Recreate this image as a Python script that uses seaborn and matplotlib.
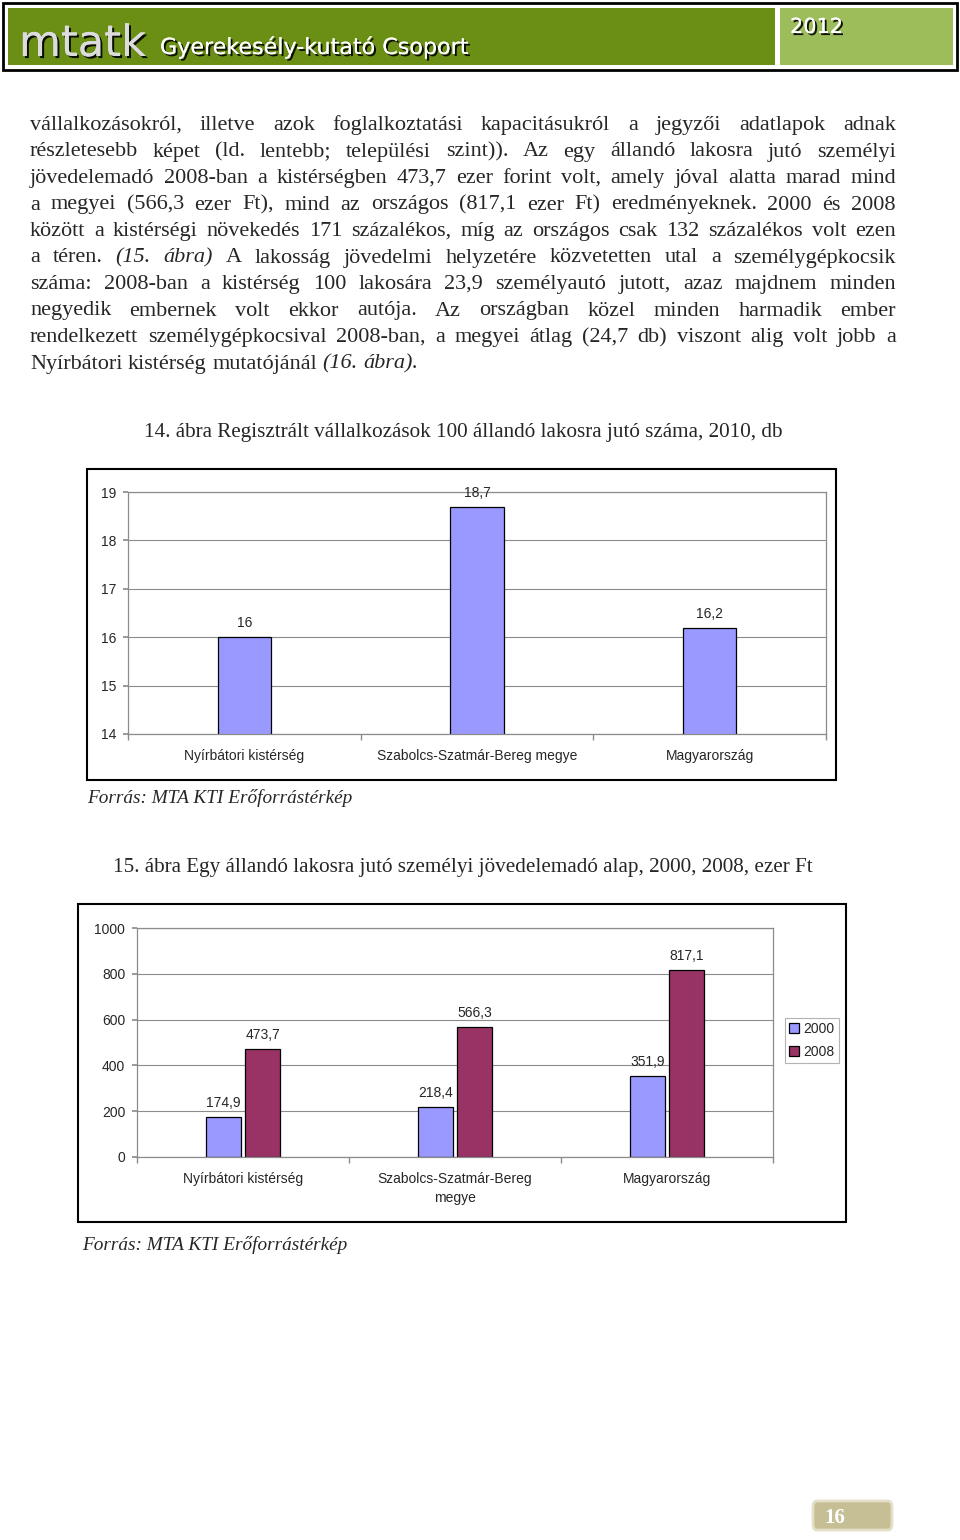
import pandas as pd
import seaborn as sns
import matplotlib.pyplot as plt
from matplotlib.patches import Rectangle, FancyBboxPatch
from matplotlib import patheffects as pe

# Data
regions = ['Nyírbátori kistérség', 'Szabolcs-Szatmár-Bereg megye', 'Magyarország']
regions2 = ['Nyírbátori kistérség', 'Szabolcs-Szatmár-Bereg\nmegye', 'Magyarország']
firms_2010 = [16.0, 18.7, 16.2]
years = ['2000', '2008']
tax_2000 = [174.9, 218.4, 351.9]
tax_2008 = [473.7, 566.3, 817.1]

paragraph = [
    "vállalkozásokról, illetve azok foglalkoztatási kapacitásukról a jegyzői adatlapok adnak",
    "részletesebb képet (ld. lentebb; települési szint)). Az egy állandó lakosra jutó személyi",
    "jövedelemadó 2008-ban a kistérségben 473,7 ezer forint volt, amely jóval alatta marad mind",
    "a megyei (566,3 ezer Ft), mind az országos (817,1 ezer Ft) eredményeknek. 2000 és 2008",
    "között a kistérségi növekedés 171 százalékos, míg az országos csak 132 százalékos volt ezen",
    "a téren. _(15. _ábra) A lakosság jövedelmi helyzetére közvetetten utal a személygépkocsik",
    "száma: 2008-ban a kistérség 100 lakosára 23,9 személyautó jutott, azaz majdnem minden",
    "negyedik embernek volt ekkor autója. Az országban közel minden harmadik ember",
    "rendelkezett személygépkocsival 2008-ban, a megyei átlag (24,7 db) viszont alig volt jobb a",
    "Nyírbátori kistérség mutatójánál _(16. _ábra).",
]

W, H = 960, 1540
SERIF = 'Liberation Serif'
SANS = 'Liberation Sans'

sns.set_theme(style='white')
plt.rcParams['font.family'] = [SANS, 'DejaVu Sans']

fig = plt.figure(figsize=(W / 100, H / 100), dpi=100)
fig.patch.set_facecolor('white')


def fx(x):
    return x / W


def fy(y):
    return 1 - y / H


def box(x0, y0, x1, y1, **kw):
    r = Rectangle((fx(x0), fy(y1)), (x1 - x0) / W, (y1 - y0) / H,
                  transform=fig.transFigure, zorder=-1, **kw)
    fig.patches.append(r)


# header banner
box(3, 3, 957, 70, facecolor='white', edgecolor='black', lw=2)
box(8, 8, 775, 65, facecolor='#6b8f14', edgecolor='none')
box(780, 8, 953, 65, facecolor='#9dbc5a', edgecolor='none')
shadow = [pe.withSimplePatchShadow(offset=(1.5, -1.5), shadow_rgbFace='black', alpha=0.9), pe.Normal()]
fig.text(fx(19), fy(56), 'mtatk', fontsize=31, color='#dcdcdc', family='DejaVu Sans',
         va='baseline', path_effects=shadow)
fig.text(fx(160), fy(54), 'Gyerekesély-kutató Csoport', fontsize=16, color='white',
         family='DejaVu Sans', va='baseline', path_effects=shadow)
fig.text(fx(790), fy(33), '2012', fontsize=15, color='white', family='DejaVu Sans',
         va='baseline', path_effects=shadow)

# justified paragraph
renderer = fig.canvas.get_renderer()
left, right = 30, 896
body_size = 16.0
cap_size = 15.2
for i, line in enumerate(paragraph):
    y = 130 + i * 26.5
    words = line.split(' ')
    items = []
    for w in words:
        italic = w.startswith('_')
        t = fig.text(0, fy(y), w.lstrip('_'), fontsize=body_size, family=SERIF,
                     style='italic' if italic else 'normal', va='baseline')
        items.append(t)
    widths = [t.get_window_extent(renderer).width for t in items]
    if i == len(paragraph) - 1:
        gap = body_size * 0.25 * 100 / 72
    else:
        gap = (right - left - sum(widths)) / (len(items) - 1)
    x = left
    for t, w in zip(items, widths):
        t.set_x(fx(x))
        x += w + gap

# chart 1
fig.text(fx(463), fy(432), '14. ábra Regisztrált vállalkozások 100 állandó lakosra jutó száma, 2010, db',
         fontsize=cap_size, family=SERIF, ha='center', va='center')
box(87, 469, 836, 780, facecolor='white', edgecolor='black', lw=1.5)

ax1 = fig.add_axes([fx(128), fy(734), fx(698), 242 / H])
df1 = pd.DataFrame({'region': regions, 'value': firms_2010})
sns.barplot(data=df1, x='region', y='value', color='#9999ff', saturation=1,
            edgecolor='black', linewidth=0.9, width=0.228, ax=ax1)
ax1.set_ylim(14, 19)
ax1.set_yticks(range(14, 20))

# chart 2
fig.text(fx(463), fy(867), '15. ábra Egy állandó lakosra jutó személyi jövedelemadó alap, 2000, 2008, ezer Ft',
         fontsize=cap_size, family=SERIF, ha='center', va='center')
box(78, 904, 846, 1222, facecolor='white', edgecolor='black', lw=1.5)

ax2 = fig.add_axes([fx(137), fy(1157), fx(636), 229 / H])
df2 = pd.DataFrame({
    'region': regions2 * 2,
    'year': [years[0]] * 3 + [years[1]] * 3,
    'value': tax_2000 + tax_2008,
})
sns.barplot(data=df2, x='region', y='value', hue='year', palette=['#9999ff', '#993366'],
            saturation=1, edgecolor='black', linewidth=0.9, width=0.37, gap=0.1, ax=ax2)
ax2.set_ylim(0, 1000)
ax2.set_yticks(range(0, 1001, 200))

handles, labels = ax2.get_legend_handles_labels()
ax2.get_legend().remove()
leg = fig.legend(handles, labels, loc='upper left', bbox_to_anchor=(fx(785), fy(1018)),
                 bbox_transform=fig.transFigure, borderaxespad=0, fontsize=10,
                 frameon=True, fancybox=False, edgecolor='#a0a0a0', handlelength=0.7,
                 handleheight=0.7, handletextpad=0.35, borderpad=0.3, labelspacing=0.65)
leg.get_frame().set_linewidth(0.8)

for ax in (ax1, ax2):
    ax.set_xlabel('')
    ax.set_ylabel('')
    ax.set_axisbelow(True)
    ax.yaxis.grid(True, color='#8c8c8c', lw=0.8)
    ax.xaxis.grid(False)
    for s in ax.spines.values():
        s.set_visible(True)
        s.set_color('#8c8c8c')
        s.set_linewidth(0.9)
    ax.set_xlim(-0.5, 2.5)
    ax.set_xticks([-0.5, 0.5, 1.5, 2.5], minor=True)
    ax.tick_params(axis='x', which='major', length=0, pad=11, labelsize=10)
    ax.tick_params(axis='x', which='minor', length=4, color='#8c8c8c', direction='out', bottom=True)
    ax.tick_params(axis='y', length=3.5, color='#8c8c8c', direction='out', left=True, pad=5,
                   labelsize=10)
    for lbl in ax.get_xticklabels():
        lbl.set_linespacing(1.45)
    for c in ax.containers:
        ax.bar_label(c, labels=[f'{v:.1f}'.replace('.', ',').replace(',0', '') for v in c.datavalues],
                     padding=5, fontsize=10)

# sources
fig.text(fx(87), fy(798), 'Forrás: MTA KTI Erőforrástérkép', fontsize=13.9, family=SERIF,
         style='italic', va='center')
fig.text(fx(82), fy(1245), 'Forrás: MTA KTI Erőforrástérkép', fontsize=13.9, family=SERIF,
         style='italic', va='center')

# page number
fig.patches.append(FancyBboxPatch((fx(813), fy(1530)), fx(79), 29 / H, transform=fig.transFigure,
                                  boxstyle='round,pad=0,rounding_size=0.004', zorder=-1,
                                  facecolor='#c6be95', edgecolor='#e3dfc8', lw=2))
fig.text(fx(835), fy(1518), '16', fontsize=15, family=SERIF, weight='bold', color='white',
         ha='center', va='center')

fig.savefig('out.png', dpi=100)
